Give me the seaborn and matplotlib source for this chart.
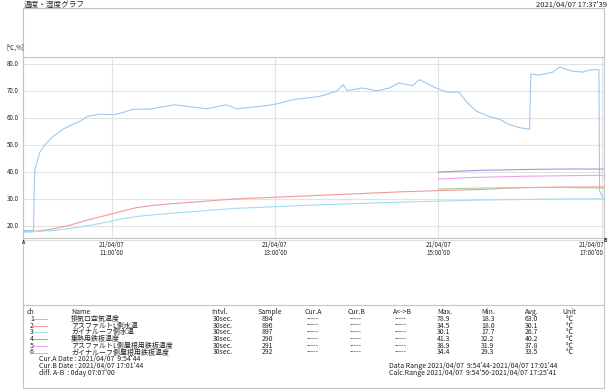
import pandas as pd
import matplotlib
matplotlib.use("Agg")
import matplotlib.pyplot as plt
from matplotlib.lines import Line2D
import seaborn as sns

# -------------------- DATA --------------------
DAY = "2021-04-07 "
T_A = "09:54:44"
T_B = "17:01:44"

ch1_t = ["09:54:44", "10:02:30", "10:03:00", "10:03:30", "10:07", "10:11", "10:17", "10:24",
         "10:31", "10:36", "10:42", "10:51", "11:01", "11:08", "11:15", "11:28", "11:46",
         "12:10", "12:24", "12:32", "12:54", "13:01", "13:13", "13:30", "13:35", "13:45",
         "13:50", "13:53", "14:04", "14:15", "14:24", "14:31", "14:41", "14:46", "14:51",
         "14:57", "15:06", "15:15", "15:21", "15:28", "15:37", "15:45", "15:52", "15:59",
         "16:07", "16:08", "16:14", "16:24", "16:29", "16:38", "16:46", "16:51", "16:58",
         "16:58:30", "17:01:44"]
ch1_v = [18.3, 18.3, 34.5, 40.9, 47.2, 50.2, 53.2, 55.8,
         57.6, 58.6, 60.6, 61.4, 61.2, 62.0, 63.2, 63.3, 64.9,
         63.4, 64.9, 63.4, 64.6, 65.2, 66.8, 67.8, 68.3, 69.9,
         72.3, 70.2, 71.1, 70.1, 71.1, 73.0, 72.0, 74.2, 73.0,
         71.4, 69.6, 69.6, 65.8, 62.5, 60.6, 59.5, 57.6, 56.5,
         55.8, 76.3, 75.9, 77.0, 78.9, 77.4, 77.0, 77.8, 78.0,
         33.0, 29.5]

ch2_t = ["09:54:44", "10:02", "10:17", "10:30", "10:42", "10:54", "11:06", "11:18", "11:30",
         "11:43", "12:30", "13:30", "14:30", "15:00", "15:30", "16:00", "16:30", "17:01:44"]
ch2_v = [17.9, 17.9, 18.9, 20.4, 22.2, 23.7, 25.3, 26.8, 27.6,
         28.2, 30.0, 31.3, 32.6, 33.1, 33.5, 34.2, 34.4, 34.5]

ch3_t = ["09:54:44", "10:17", "10:30", "10:42", "10:54", "11:06", "11:18", "11:30",
         "11:43", "12:30", "13:30", "14:30", "15:30", "16:30", "17:01:44"]
ch3_v = [17.7, 18.3, 19.1, 20.1, 21.2, 22.5, 23.5, 24.1,
         24.7, 26.5, 27.8, 28.8, 29.6, 30.0, 30.1]

ch4_t = ["15:00", "15:30", "16:00", "16:30", "17:01:44"]
ch4_v = [40.0, 40.6, 40.9, 41.1, 41.1]

ch5_t = ["15:00", "15:10", "15:20", "16:00", "16:30", "17:00", "17:01:44"]
ch5_v = [37.4, 37.6, 37.9, 38.4, 38.6, 38.8, 38.4]

ch6_t = ["15:00", "15:30", "16:00", "16:30", "17:01:44"]
ch6_v = [33.7, 34.0, 34.2, 34.3, 34.0]

names = ["排気口空気温度", "アスファルトL側水温", "ガイナルーフ側水温", "集熱用鉄板温度",
         "アスファルトL側屋根用鉄板温度", "ガイナルーフ側屋根用鉄板温度"]
samples = ["894", "896", "897", "290", "291", "292"]
max_v = ["78.9", "34.5", "30.1", "41.3", "38.9", "34.4"]
min_v = ["18.3", "18.0", "17.7", "32.2", "31.9", "29.3"]
avg_v = ["63.0", "30.1", "26.7", "40.2", "37.8", "33.5"]
colors = ["#9cc8f4", "#f29a9a", "#a2dcf4", "#9c9ad8", "#e8a2ee", "#a6d2a0"]

tick_times = ["11:00", "13:00", "15:00", "17:00"]
yticks = [20, 30, 40, 50, 60, 70, 80]

# -------------------- FRAME --------------------
sns.set_style("white")
plt.rcParams['font.family'] = ['Noto Sans CJK JP', 'DejaVu Sans']

W, H = 610, 389
fig = plt.figure(figsize=(W / 100, H / 100), dpi=100)
GRAY = "#c4c4c4"
TXT = "#222222"


def fx(x):
    return x / W


def fy(y):
    return 1 - y / H


def ptext(x, y, s, size=5, **kw):
    fig.text(fx(x), fy(y), s, fontsize=size, color=TXT, va="center", **kw)


def pline(x0, y0, x1, y1, color=GRAY, lw=0.8, ls="-"):
    fig.add_artist(Line2D([fx(x0), fx(x1)], [fy(y0), fy(y1)], transform=fig.transFigure,
                          color=color, lw=lw, ls=ls))


def to_time(lst):
    return pd.to_datetime([DAY + s for s in lst], format="mixed")


L, R, TOP, BOT = 23, 604, 57, 238
ax = fig.add_axes([fx(L), fy(BOT), (R - L) / W, (BOT - TOP) / H])

# -------------------- LINES --------------------
frames = []
for i, (t, v) in enumerate([(ch1_t, ch1_v), (ch2_t, ch2_v), (ch3_t, ch3_v),
                            (ch4_t, ch4_v), (ch5_t, ch5_v), (ch6_t, ch6_v)]):
    frames.append(pd.DataFrame({"time": to_time(t), "value": v, "ch": str(i + 1)}))
df = pd.concat(frames, ignore_index=True)

sns.lineplot(data=df, x="time", y="value", hue="ch", palette=colors, estimator=None,
             linewidth=0.8, legend=False, ax=ax)

t_a = pd.Timestamp(DAY + T_A)
t_b = pd.Timestamp(DAY + T_B)
ax.set_xlim(t_a, t_b)
ax.set_ylim(15.55, 82.6)

ticks = list(to_time(tick_times))
ax.set_xticks(ticks)
ax.set_xticklabels([])
ax.set_yticks(yticks)
ax.set_yticklabels([])
ax.tick_params(length=0)
ax.grid(True, color="#e2e2e2", lw=0.8)
ax.set_xlabel("")
ax.set_ylabel("")
for sp in ax.spines.values():
    sp.set_color(GRAY)
    sp.set_linewidth(0.8)
ax.axvline(t_a, color="#b0b0b0", lw=0.8, ls=(0, (4, 3)))

# y tick labels in figure pixels
for v in yticks:
    ypix = BOT - (v - 15.55) / (82.6 - 15.55) * (BOT - TOP)
    ptext(19, ypix, f"{v:.1f}", size=4.5, ha="right")

# x tick labels (two lines in one text)
span = (t_b - t_a).total_seconds()
for i, t in enumerate(ticks):
    xpix = L + (t - t_a).total_seconds() / span * (R - L)
    ha = "center"
    if i == len(ticks) - 1:
        xpix, ha = R, "right"
    ptext(xpix, 249, "21/04/07\n" + t.strftime("%H:%M") + "'00", size=4.5, ha=ha,
          multialignment="center", linespacing=0.95)

ptext(L, 242, "A", size=3.5, ha="center", fontweight="bold")
ptext(R + 1, 241, "B", size=3.5, ha="center", fontweight="bold")

# -------------------- HEADER --------------------
ptext(24, 5, "温度・湿度グラフ", size=5.5)
ptext(607, 5, "2021/04/07 17:37'39", size=5.5, ha="right")
ptext(6, 48, "[℃,%]", size=4.5)

pline(L, 8, R, 8)
pline(L, 8, L, TOP)
pline(R, 8, R, TOP)
pline(L, 240, R, 240, color="#dddddd")
pline(L, BOT, L, 388)
pline(R, BOT, R, 388)
pline(L, 388, R, 388)
pline(L, 305, R, 305)

# -------------------- TABLE --------------------
cols = [27, 71, 211, 258, 305, 348, 393, 437, 481, 525, 562]
heads = ["ch", "Name", "Intvl.", "Sample", "Cur.A", "Cur.B", "A<->B", "Max.", "Min.", "Avg.", "Unit"]
for x, h in zip(cols, heads):
    ptext(x, 312, h)

for i in range(6):
    y = 319 + 6.7 * i
    ptext(30, y, str(i + 1))
    pline(33, y, 47, y, color=colors[i], lw=0.7)
    ptext(71, y, names[i])
    ptext(213, y, "30sec.")
    ptext(262, y, samples[i])
    for x in (307, 350, 395):
        ptext(x, y, "-----")
    ptext(437, y, max_v[i])
    ptext(481, y, min_v[i])
    ptext(525, y, avg_v[i])
    ptext(566, y, "℃")

ptext(39, 359.5, "Cur.A Date : 2021/04/07  9:54'44")
ptext(39, 366.2, "Cur.B Date : 2021/04/07 17:01'44")
ptext(39, 372.9, "diff. A-B  : 0day 07:07'00")
ptext(389, 366.2, "Data Range 2021/04/07  9:54'44-2021/04/07 17:01'44")
ptext(389, 372.9, "Calc.Range 2021/04/07  9:54'50-2021/04/07 17:25'41")

fig.savefig("out.png", dpi=100)
